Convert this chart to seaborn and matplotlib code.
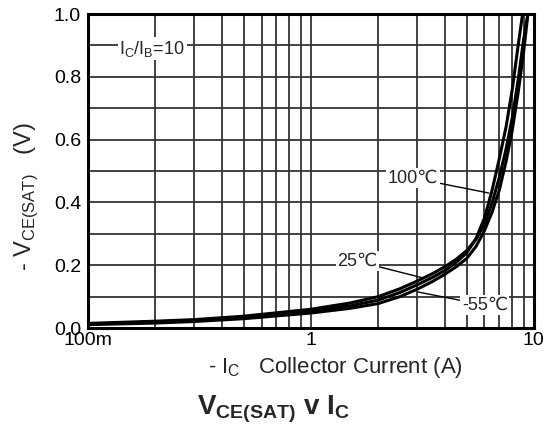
import numpy as np
import pandas as pd
import matplotlib
matplotlib.use("Agg")
import matplotlib.pyplot as plt
from matplotlib.ticker import FixedLocator, NullFormatter, FixedFormatter
import seaborn as sns

# Vce(sat) vs Ic, Ic/Ib = 10, three temperatures
ic_25 = [0.1, 0.2, 0.3, 0.5, 1.0, 1.5, 2.0, 2.5, 3.0, 3.5, 4.0, 4.5, 5.0, 5.5, 6.0, 6.5, 7.0, 7.5, 8.0, 8.5, 9.0, 9.4]
vce_25 = [0.015, 0.022, 0.027, 0.038, 0.060, 0.080, 0.100, 0.125, 0.150, 0.173, 0.196, 0.220, 0.247, 0.283, 0.33, 0.40, 0.48, 0.57, 0.67, 0.79, 0.92, 1.0]

ic_100 = [0.1, 0.2, 0.3, 0.5, 1.0, 1.5, 2.0, 2.5, 3.0, 3.5, 4.0, 4.5, 5.0, 5.5, 6.0, 6.5, 7.0, 7.5, 8.0, 8.5, 8.9]
vce_100 = [0.013, 0.019, 0.024, 0.034, 0.054, 0.071, 0.089, 0.113, 0.138, 0.161, 0.184, 0.210, 0.240, 0.285, 0.35, 0.44, 0.54, 0.64, 0.76, 0.90, 1.0]

ic_m55 = [0.1, 0.2, 0.3, 0.5, 1.0, 1.5, 2.0, 2.5, 3.0, 3.5, 4.0, 4.5, 5.0, 5.5, 6.0, 6.5, 7.0, 7.5, 8.0, 8.5, 9.0, 9.4]
vce_m55 = [0.011, 0.016, 0.021, 0.030, 0.048, 0.063, 0.078, 0.100, 0.124, 0.148, 0.172, 0.196, 0.222, 0.260, 0.31, 0.37, 0.44, 0.53, 0.63, 0.75, 0.88, 1.0]

temps = ["100℃", "25℃", "-55℃"]
xtick_vals = [0.1, 1, 10]
xtick_labels = ["100m", "1", "10"]
ytick_vals = [0.0, 0.2, 0.4, 0.6, 0.8, 1.0]

df = pd.concat([
    pd.DataFrame({"ic": ic_100, "vce": vce_100, "temp": temps[0]}),
    pd.DataFrame({"ic": ic_25, "vce": vce_25, "temp": temps[1]}),
    pd.DataFrame({"ic": ic_m55, "vce": vce_m55, "temp": temps[2]}),
])

sns.set_style("white")
plt.rcParams["font.family"] = ["Liberation Sans", "DejaVu Sans"]
plt.rcParams["mathtext.fontset"] = "custom"
plt.rcParams["mathtext.rm"] = "Liberation Sans"
plt.rcParams["mathtext.bf"] = "Liberation Sans:bold"

fig = plt.figure(figsize=(5.47, 4.25), dpi=100)
ax = fig.add_axes([0.161, 0.228, 0.815, 0.739])

sns.lineplot(data=df, x="ic", y="vce", hue="temp", units="temp", estimator=None,
             sort=False, palette=["black"] * 3, linewidth=2.2, legend=False, ax=ax, zorder=3)

ax.set_xscale("log")
ax.set_xlim(0.1, 10)
ax.set_ylim(0, 1.0)

# grid on every minor decade line
minor = [m * d for d in (0.1, 1) for m in range(2, 10)]
ax.xaxis.set_major_locator(FixedLocator(xtick_vals))
ax.xaxis.set_major_formatter(FixedFormatter(xtick_labels))
ax.xaxis.set_minor_locator(FixedLocator(minor))
ax.xaxis.set_minor_formatter(NullFormatter())
ax.set_yticks(ytick_vals)
ax.set_yticklabels([f"{v:.1f}" for v in ytick_vals])
ax.set_yticks(np.arange(0.1, 1.0, 0.2), minor=True)
ax.grid(True, which="both", color="#333333", linewidth=1.3, zorder=1)
ax.tick_params(which="both", length=0, labelsize=14, colors="black")
ax.tick_params(axis="y", pad=5)
ax.tick_params(axis="x", pad=3)

for s in ax.spines.values():
    s.set_color("black")
    s.set_linewidth(2.2)

ax.set_xlabel("- I$_\\mathrm{C}$   Collector Current (A)", fontsize=16)
ax.xaxis.set_label_coords(0.554, -0.085)
ax.set_ylabel("- V$_\\mathrm{CE(SAT)}$   (V)", fontsize=17)
ax.yaxis.set_label_coords(-0.108, 0.42)
fig.text(0.50, 0.024, "$\\mathbf{V_{CE(SAT)}}$ $\\mathbf{v}$ $\\mathbf{I_C}$", ha="center",
         va="baseline", fontsize=20)

box = dict(facecolor="white", edgecolor="none", pad=1.0)
ax.text(0.194, 0.89, "I$_\\mathrm{C}$/I$_\\mathrm{B}$=10", fontsize=13, ha="center",
        va="center", bbox=box, zorder=4)

ax.annotate(temps[0], xy=(6.28, 0.43), xytext=(2.87, 0.478), fontsize=13,
            ha="center", va="center", bbox=box, zorder=4,
            arrowprops=dict(arrowstyle="-", color="black", lw=1.0, shrinkA=0, shrinkB=0))
ax.annotate(temps[1], xy=(3.21, 0.159), xytext=(1.61, 0.213), fontsize=13,
            ha="center", va="center", bbox=box, zorder=4,
            arrowprops=dict(arrowstyle="-", color="black", lw=1.0, shrinkA=0, shrinkB=0))
ax.annotate(temps[2], xy=(3.02, 0.115), xytext=(6.03, 0.073), fontsize=13,
            ha="center", va="center", bbox=box, zorder=4,
            arrowprops=dict(arrowstyle="-", color="black", lw=1.0, shrinkA=0, shrinkB=0))

fig.savefig("out.png", dpi=100, facecolor="white")
